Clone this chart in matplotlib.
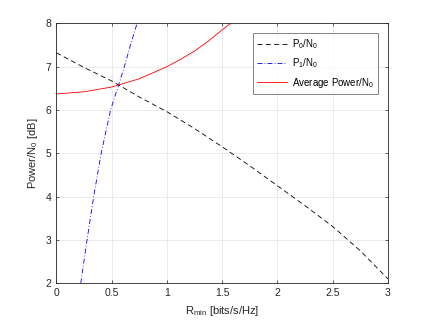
import numpy as np
import matplotlib.pyplot as plt

plt.rcParams["font.family"] = ["Liberation Sans", "DejaVu Sans"]
plt.rcParams["mathtext.default"] = "regular"

# values
r_p0 = [0.0, 0.25, 0.5, 0.75, 1.0, 1.25, 1.5, 1.75, 2.0, 2.25, 2.5, 2.75, 3.0]
p0 = [7.32, 6.98, 6.67, 6.3, 5.96, 5.57, 5.15, 4.71, 4.25, 3.79, 3.31, 2.75, 2.1]

r_p1 = [0.22, 0.277, 0.337, 0.405, 0.49, 0.56, 0.615, 0.67, 0.73]
p1 = [2.0, 3.0, 4.0, 5.0, 6.0, 6.56, 7.0, 7.5, 8.0]

r_avg = [0.0, 0.25, 0.5, 0.75, 1.0, 1.125, 1.25, 1.38, 1.5, 1.577]
avg = [6.37, 6.42, 6.53, 6.72, 7.0, 7.17, 7.36, 7.6, 7.85, 8.0]

fg, ax = plt.subplots(figsize=(4.29, 3.22), dpi=100)
fg.subplots_adjust(left=0.1315, right=0.9044, top=0.9276, bottom=0.1202)

ax.plot(r_p0, p0, color="black", linestyle=(0, (6, 4)), lw=0.6, label="P$_0$/N$_0$")
ax.plot(r_p1, p1, color="blue", linestyle=(0, (6, 2.5, 1, 2.5)), lw=0.6, label="P$_1$/N$_0$")
ax.plot(r_avg, avg, color="red", linestyle="-", lw=0.6, label="Average Power/N$_0$")

ax.set_xlim(0, 3)
ax.set_ylim(2, 8)
ax.set_xticks([0, 0.5, 1, 1.5, 2, 2.5, 3])
ax.set_xticklabels(["0", "0.5", "1", "1.5", "2", "2.5", "3"])
ax.set_yticks([2, 3, 4, 5, 6, 7, 8])
ax.grid(color="#e6e6e6", lw=0.6)
ax.set_axisbelow(True)
ax.tick_params(direction="in", top=True, right=True, labelsize=7.5,
               colors="#262626", length=2.5, width=0.5)
for s in ax.spines.values():
    s.set_color("#262626")
    s.set_linewidth(0.6)

ax.set_xlabel("R$_{min}$ [bits/s/Hz]", fontsize=8, color="#262626")
ax.set_ylabel("Power/N$_0$ [dB]", fontsize=8, color="#262626")

leg = ax.legend(loc="upper right", fontsize=7, frameon=True, fancybox=False,
                edgecolor="#262626", handlelength=3.1, handletextpad=0.5,
                borderaxespad=1.0, borderpad=0.45, labelspacing=0.55)
leg.get_frame().set_linewidth(0.5)

fg.savefig("out.png", dpi=100)
plt.close(fg)
